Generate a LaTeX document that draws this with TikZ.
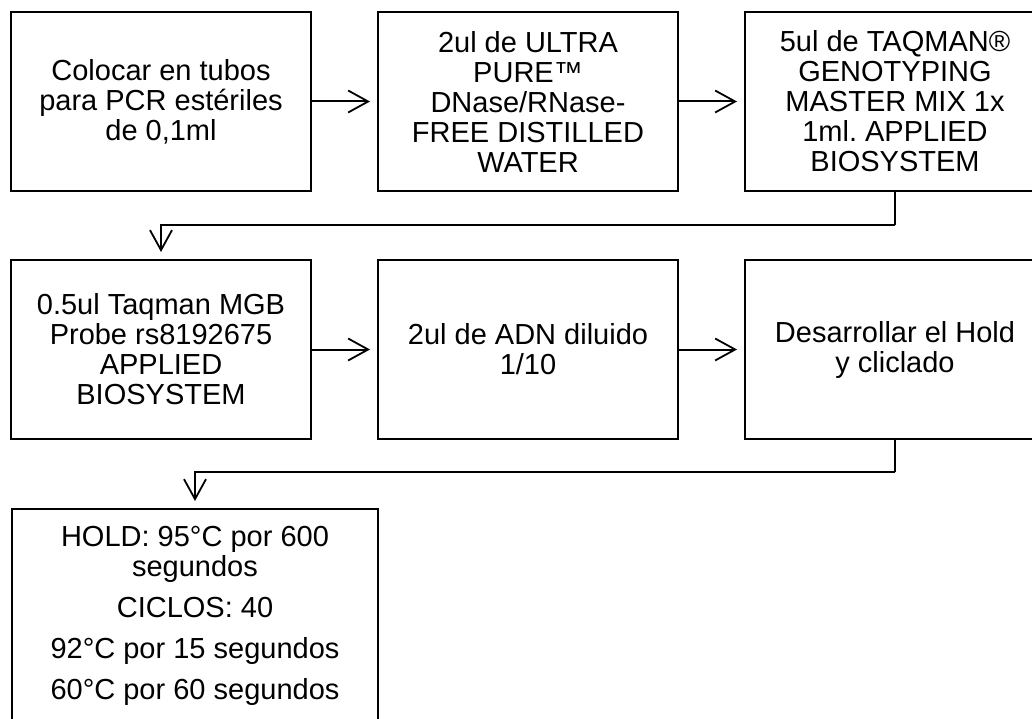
\documentclass[tikz,border=0pt]{standalone}
\usepackage{fontspec}
\setmainfont{Liberation Sans}
\usetikzlibrary{arrows.meta}
\frenchspacing
\begin{document}
\begin{tikzpicture}[x=1pt,y=-1pt,
  box/.style={draw=black, line width=2pt, fill=white, rectangle,
    minimum width=300pt, minimum height=179pt, inner sep=0pt,
    align=center, font=\fontsize{29}{30}\selectfont},
  txt/.style={align=center, inner sep=0pt, font=\fontsize{29}{30}\selectfont},
  conn/.style={line width=2pt, shorten >=7pt,
    -{Straight Barb[length=20pt,width=22pt,line width=1.8pt]}},
  link/.style={line width=2pt}
]
\clip (0,0) rectangle (1032,719);
\fill[white] (0,0) rectangle (1032,719);
% row 1
\node[box] (b1) at (161,101.5) {Colocar en tubos\\para PCR estériles\\de 0,1ml};
\node[box] (b2) at (528,101.5) {2ul de ULTRA\\PURE™\\DNase/RNase-\\FREE DISTILLED\\WATER};
\node[box] (b3) at (895,101.5) {5ul de TAQMAN®\\GENOTYPING\\MASTER MIX 1x\\1ml. APPLIED\\BIOSYSTEM};
% row 2
\node[box] (b4) at (161,349.5) {0.5ul Taqman MGB\\Probe rs8192675\\APPLIED\\BIOSYSTEM};
\node[box] (b5) at (528,349.5) {2ul de ADN diluido\\1/10};
\node[box] (b6) at (895,349.5) {Desarrollar el Hold\\y cliclado};
% row 3
\node[box, minimum width=366pt, minimum height=260pt, anchor=north] (b7) at (195,508) {};
\node[txt, anchor=north] (t7) at (195,526) {HOLD: 95°C por 600\\segundos\\[11pt]CICLOS: 40\\[11pt]92°C por 15 segundos\\[11pt]60°C por 60 segundos};
% connectors
\draw[conn] (b1) -- (b2);
\draw[conn] (b2) -- (b3);
\draw[conn] (b4) -- (b5);
\draw[conn] (b5) -- (b6);
\coordinate (c1) at (895,225);
\coordinate (c2) at (895,472);
\draw[link] (b3.south) -- (c1);
\draw[conn] (c1) -| (b4.north);
\draw[link] (b6.south) -- (c2);
\draw[conn] (c2) -| (b7.north);
\end{tikzpicture}
\end{document}
